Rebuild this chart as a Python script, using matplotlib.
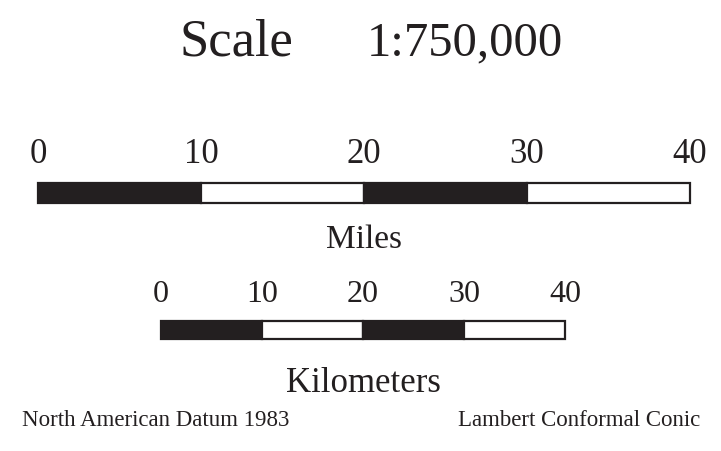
import matplotlib
matplotlib.use("Agg")
import matplotlib.pyplot as plt
import matplotlib.transforms as mtransforms

# Barra de escala

W, H = 721, 452
ink = "#231f20"
plt.rcParams["font.family"] = ["Liberation Serif", "DejaVu Serif"]

titulo = "Scale"
razon = "1:750,000"
millas = [0, 10, 20, 30, 40]
kilometros = [0, 10, 20, 30, 40]
etiqueta_mi = "Miles"
etiqueta_km = "Kilometers"
datum = "North American Datum 1983"
proyeccion = "Lambert Conformal Conic"


def ejes_px(fig, x0, x1, ytop, ybot):
    # ejes ubicados en pixeles de la figura (y hacia abajo)
    ax = fig.add_axes([x0 / W, 1 - ybot / H, (x1 - x0) / W, (ybot - ytop) / H])
    ax.set_ylim(0, 1)
    ax.axis("off")
    return ax


def barra(ax, marcas, tam, y_lab):
    ax.set_xlim(marcas[0], marcas[-1])
    for i in range(len(marcas) - 1):
        color = ink if i % 2 == 0 else "white"
        ax.barh(0.5, marcas[i + 1] - marcas[i], left=marcas[i], height=1,
                color=color, edgecolor=ink, linewidth=1.6, clip_on=False)
    tr = mtransforms.blended_transform_factory(ax.transData, ax.transAxes)
    for m in marcas:
        ax.text(m, y_lab, str(m), transform=tr, ha="center", va="baseline",
                fontsize=tam, color=ink)


def texto(fig, x, y, s, **kw):
    fig.text(x / W, 1 - y / H, s, va="baseline", color=ink, **kw)


fig = plt.figure(figsize=(W / 100, H / 100), dpi=100)

texto(fig, 236, 55, titulo, ha="center", fontsize=38)
texto(fig, 465, 55, razon, ha="center", fontsize=35)

ax_mi = ejes_px(fig, 38, 690, 184, 204)
barra(ax_mi, millas, 25, (204 - 163) / 20)
texto(fig, 364, 248, etiqueta_mi, ha="center", fontsize=24)

ax_km = ejes_px(fig, 161, 565, 322, 340)
barra(ax_km, kilometros, 23, (340 - 302) / 18)
texto(fig, 363, 392, etiqueta_km, ha="center", fontsize=25)

texto(fig, 22, 426, datum, ha="left", fontsize=16.5)
texto(fig, 700, 426, proyeccion, ha="right", fontsize=16.5)

fig.savefig("out.png", dpi=100)
